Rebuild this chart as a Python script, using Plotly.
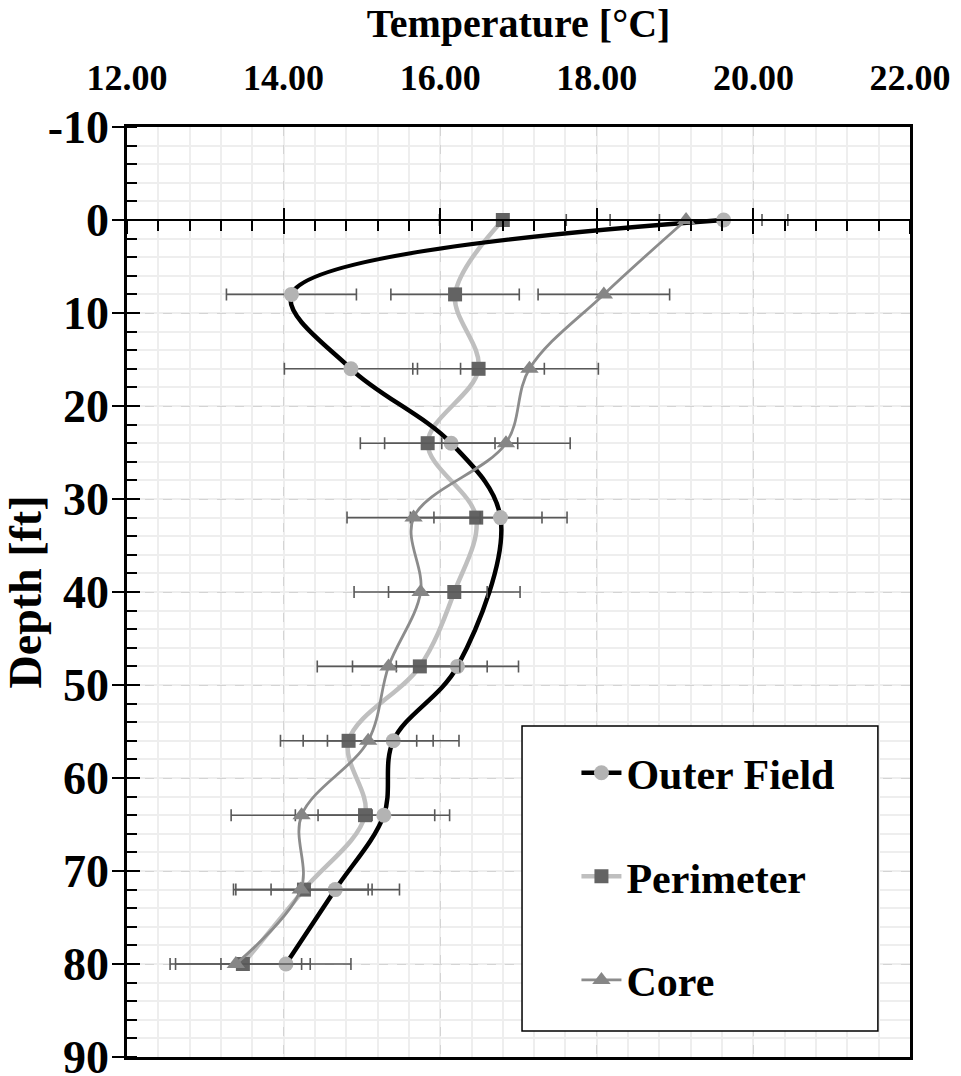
import plotly.graph_objects as go

# Temperature profiles with depth (mean ± spread) for three borehole groups
depth_all = [0, 8, 16, 24, 32, 40, 48, 56, 64, 72, 80]
outer_depth = [0, 8, 16, 24, 32, 48, 56, 64, 72, 80]

outer_temp = [19.62, 14.10, 14.86, 16.14, 16.77, 16.22, 15.40, 15.28, 14.66, 14.03]
outer_err = [0.82, 0.83, 0.85, 0.85, 0.85, 0.78, 0.84, 0.84, 0.82, 0.83]

perim_temp = [16.80, 16.19, 16.49, 15.84, 16.46, 16.18, 15.74, 14.83, 15.04, 14.26, 13.48]
perim_err = [0.81, 0.82, 0.84, 0.86, 0.84, 0.84, 0.86, 0.87, 0.89, 0.87, 0.86]

core_temp = [19.14, 18.09, 17.14, 16.84, 15.66, 15.75, 15.34, 15.08, 14.23, 14.22, 13.39]
core_err = [0.97, 0.84, 0.88, 0.82, 0.85, 0.85, 0.91, 0.83, 0.90, 0.86, 0.84]

temp_ticks = [12, 14, 16, 18, 20, 22]
temp_labels = ["12.00", "14.00", "16.00", "18.00", "20.00", "22.00"]
depth_ticks = [-10, 0, 10, 20, 30, 40, 50, 60, 70, 80, 90]
depth_labels = ["-10", "0", "10", "20", "30", "40", "50", "60", "70", "80", "90"]
depth_range = [90, -10]

FONT = "Liberation Serif"
ERR_COLOR = "#595959"


def err(values):
    return dict(type="data", array=values, symmetric=True, color=ERR_COLOR,
                thickness=1.6, width=6)


fig = go.Figure()

# Each series sits on its own overlaid axis pair (same ranges), so the
# extra axes that draw the depth-0 line and the crossing ticks get rendered.
fig.add_trace(go.Scatter(
    name="Perimeter", x=perim_temp, y=depth_all, mode="lines+markers",
    line=dict(color="#bfbfbf", width=4.5, shape="spline", smoothing=1),
    marker=dict(symbol="square", size=14, color="#636363"),
    error_x=err(perim_err), legendrank=2, legendgroup="b",
    xaxis="x", yaxis="y",
))
fig.add_trace(go.Scatter(
    name="Outer Field", x=outer_temp, y=outer_depth, mode="lines+markers",
    line=dict(color="#000000", width=4.5, shape="spline", smoothing=1),
    marker=dict(symbol="circle", size=15, color="#b3b3b3"),
    error_x=err(outer_err), legendrank=1, legendgroup="a",
    xaxis="x2", yaxis="y",
))
fig.add_trace(go.Scatter(
    name="Core", x=core_temp, y=depth_all, mode="lines+markers",
    line=dict(color="#8c8c8c", width=2.8, shape="spline", smoothing=1),
    marker=dict(symbol="triangle-up", size=16, color="#868686"),
    error_x=err(core_err), legendrank=3, legendgroup="c",
    xaxis="x3", yaxis="y2",
))

fig.update_layout(
    width=961, height=1076,
    margin=dict(l=127, r=51, t=127, b=19),
    paper_bgcolor="white", plot_bgcolor="white",
    font=dict(family=FONT, color="black"),
    xaxis=dict(
        range=[12, 22], side="top", tickvals=temp_ticks, ticktext=temp_labels,
        tickfont=dict(family=FONT, size=36, color="black", weight="bold"),
        ticks="", ticklabelstandoff=20, automargin=False, ticklabeloverflow="allow",
        showline=True, mirror=True, linecolor="black", linewidth=2.5,
        showgrid=True, gridcolor="#d4d4d4", griddash="dash", gridwidth=1,
        minor=dict(dtick=0.4, tick0=12, showgrid=True, gridcolor="#eeeeee",
                   gridwidth=1.5, griddash="solid"),
        zeroline=False,
        title=dict(text="Temperature [°C]", standoff=8,
                   font=dict(family=FONT, size=40, color="black", weight="bold")),
    ),
    xaxis2=dict(
        range=[12, 22], overlaying="x", anchor="free", position=0.9, side="bottom",
        showline=True, linecolor="black", linewidth=2, automargin=False,
        ticks="outside", ticklen=13, tickwidth=2, tickcolor="black",
        tickvals=temp_ticks, showticklabels=False, showgrid=False, zeroline=False,
        minor=dict(ticks="outside", dtick=0.4, tick0=12, ticklen=10, tickwidth=2,
                   tickcolor="black", showgrid=False),
    ),
    xaxis3=dict(
        range=[12, 22], overlaying="x", anchor="free", position=0.9, side="bottom",
        showline=False, ticks="inside", ticklen=12, tickwidth=2, tickcolor="black",
        tickvals=temp_ticks, showticklabels=False, showgrid=False, zeroline=False,
        automargin=False,
    ),
    yaxis=dict(
        range=depth_range, tickvals=depth_ticks, ticktext=depth_labels,
        tickfont=dict(family=FONT, size=46, color="black", weight="bold"),
        ticks="outside", ticklen=12, tickwidth=2, tickcolor="black",
        ticklabelstandoff=-6, automargin=False, ticklabeloverflow="allow",
        showline=True, mirror=True, linecolor="black", linewidth=2.5,
        showgrid=True, gridcolor="#d4d4d4", griddash="dash", gridwidth=1,
        minor=dict(dtick=2, tick0=0, ticks="inside", ticklen=10, tickwidth=2,
                   tickcolor="black", showgrid=True, gridcolor="#eeeeee",
                   gridwidth=1.5, griddash="solid"),
        zeroline=False,
        title=dict(text="Depth [ft]", standoff=4,
                   font=dict(family=FONT, size=46, color="black", weight="bold")),
    ),
    yaxis2=dict(
        range=depth_range, overlaying="y", anchor="x", side="left",
        ticks="inside", ticklen=13, tickwidth=2, tickcolor="black",
        tickvals=depth_ticks, showticklabels=False, showgrid=False,
        showline=False, zeroline=False, automargin=False,
    ),
    legend=dict(
        x=0.574, y=0.342, xanchor="left", yanchor="top",
        bgcolor="rgba(0,0,0,0)", borderwidth=0,
        font=dict(family=FONT, size=42, color="black", weight="bold"),
        itemwidth=40, tracegroupgap=46,
    ),
    shapes=[dict(
        type="rect", xref="paper", yref="paper",
        x0=0.5045, x1=0.959, y0=0.028, y1=0.356,
        line=dict(color="black", width=1.5), fillcolor="white", layer="above",
    )],
)

fig.write_html("out.html")
